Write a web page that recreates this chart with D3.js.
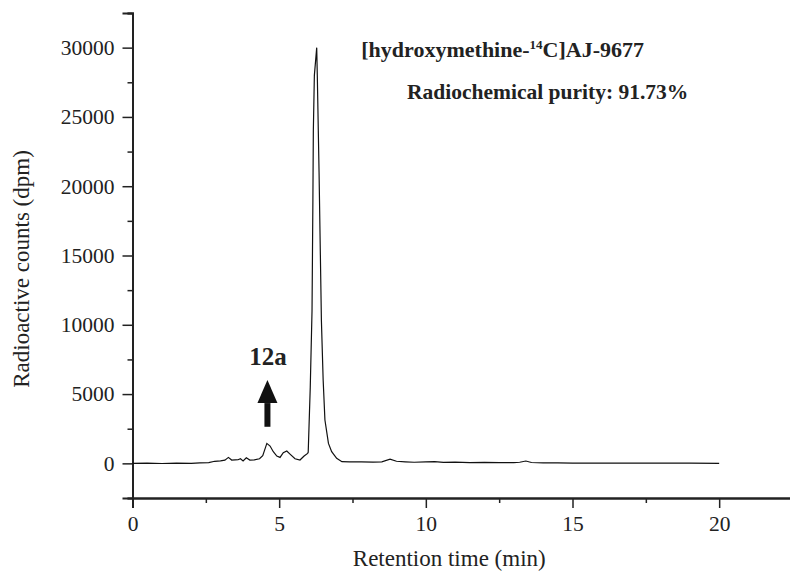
<!DOCTYPE html>
<html>
<head>
<meta charset="utf-8">
<script src="https://cdn.jsdelivr.net/npm/d3@7"></script>
<style>
  body { margin: 0; background: #fff; }
  text { font-family: "Liberation Serif", "Times New Roman", serif; fill: #222; }
</style>
</head>
<body>
<div id="chart"></div>
<script>
// chromatogram trace
var times = [0, 0.5, 1, 1.5, 2, 2.3, 2.6, 2.8, 3.0, 3.15, 3.27, 3.38, 3.5, 3.6, 3.68, 3.77, 3.88, 4.0,
  4.15, 4.33, 4.44, 4.58, 4.69, 4.8, 4.92, 5.03, 5.14, 5.26, 5.37, 5.54, 5.71, 5.85, 5.97, 5.99, 6.06,
  6.12, 6.15, 6.165, 6.2, 6.28, 6.3, 6.36, 6.44, 6.5, 6.56, 6.68, 6.79, 6.96, 7.14, 7.4, 7.8, 8.2,
  8.5, 8.78, 9.0, 9.3, 9.6, 10.0, 10.3, 10.6, 11.0, 11.5, 12.0, 12.5, 13.0, 13.2, 13.41, 13.6, 14.0,
  14.5, 15.0, 16.0, 17.0, 18.0, 19.0, 20.0];
var counts = [0, 10, -10, 20, 0, 30, 50, 150, 180, 230, 430, 240, 250, 260, 330, 180, 400, 240,
  250, 330, 560, 1440, 1250, 840, 530, 430, 770, 890, 670, 330, 240, 530, 720, 800, 5500,
  11000, 19000, 24000, 28000, 30000, 28000, 21000, 10300, 6000, 3130, 1440, 840, 360, 120, 100, 110, 90,
  110, 310, 150, 110, 80, 110, 130, 70, 90, 60, 70, 50, 60, 80, 170, 60, 40,
  30, 20, 10, 20, 10, 10, 5];

var xMajor = [0, 5, 10, 15, 20];
var xMinor = [2.5, 7.5, 12.5, 17.5, 22.5];
var yMajor = [0, 5000, 10000, 15000, 20000, 25000, 30000];
var yMinor = [-2500, 2500, 7500, 12500, 17500, 22500, 27500, 32500];

var width = 790, height = 573;
var svg = d3.select("#chart").append("svg")
  .attr("width", width)
  .attr("height", height);

var x = d3.scaleLinear().domain([0, 22.5]).range([132.5, 792.5]);
var y = d3.scaleLinear().domain([-2500, 32500]).range([498, 13]);

// axes
var gx = svg.append("g").attr("transform", "translate(0," + y(-2500) + ")");
gx.call(d3.axisBottom(x).tickValues(xMajor).tickSize(10).tickPadding(8).tickFormat(d3.format("d")));
gx.append("g").call(d3.axisBottom(x).tickValues(xMinor).tickSize(5).tickFormat(""));

var gy = svg.append("g").attr("transform", "translate(" + x(0) + ",0)");
gy.call(d3.axisLeft(y).tickValues(yMajor).tickSize(10).tickPadding(8).tickFormat(d3.format("d")));
gy.append("g").call(d3.axisLeft(y).tickValues(yMinor).tickSize(5).tickFormat(""));

svg.selectAll(".domain").attr("stroke", "#222").attr("stroke-width", 2);
svg.selectAll(".tick line").attr("stroke", "#222").attr("stroke-width", 1.5);
svg.selectAll(".tick text")
  .attr("font-family", "Liberation Serif, serif")
  .attr("font-size", 21.5)
  .attr("fill", "#222");
gx.selectAll(".tick text").attr("dy", "0.71em");

// trace
var line = d3.line()
  .x(function(d, i) { return x(times[i]); })
  .y(function(d) { return y(d); });

svg.append("path")
  .datum(counts)
  .attr("d", line)
  .attr("fill", "none")
  .attr("stroke", "#111")
  .attr("stroke-width", 1.2);

// axis titles
svg.append("text")
  .attr("x", (x(0) + 790) / 2 - 12)
  .attr("y", 566)
  .attr("text-anchor", "middle")
  .attr("font-size", 23)
  .text("Retention time (min)");

svg.append("text")
  .attr("transform", "translate(29," + 269 + ") rotate(-90)")
  .attr("text-anchor", "middle")
  .attr("font-size", 23)
  .text("Radioactive counts (dpm)");

// titles
var title = svg.append("text")
  .attr("x", x(7.8))
  .attr("y", 57)
  .attr("font-size", 22)
  .attr("font-weight", "bold");
title.append("tspan").text("[hydroxymethine-");
title.append("tspan").attr("font-size", 13).attr("dy", -8).text("14");
title.append("tspan").attr("dy", 8).text("C]AJ-9677");

svg.append("text")
  .attr("x", x(9.36))
  .attr("y", 99)
  .attr("font-size", 21.5)
  .attr("font-weight", "bold")
  .text("Radiochemical purity: 91.73%");

// 12a annotation
var ax = x(4.6);
svg.append("rect")
  .attr("x", ax - 3)
  .attr("y", y(4350))
  .attr("width", 6)
  .attr("height", y(2640) - y(4350))
  .attr("fill", "#111");
svg.append("path")
  .attr("d", "M" + (ax - 10) + "," + y(4350) + "L" + ax + "," + y(6010) + "L" + (ax + 10) + "," + y(4350) + "Z")
  .attr("fill", "#111");
svg.append("text")
  .attr("x", x(4.62))
  .attr("y", y(7090))
  .attr("text-anchor", "middle")
  .attr("font-size", 25)
  .attr("font-weight", "bold")
  .text("12a");
</script>
</body>
</html>
